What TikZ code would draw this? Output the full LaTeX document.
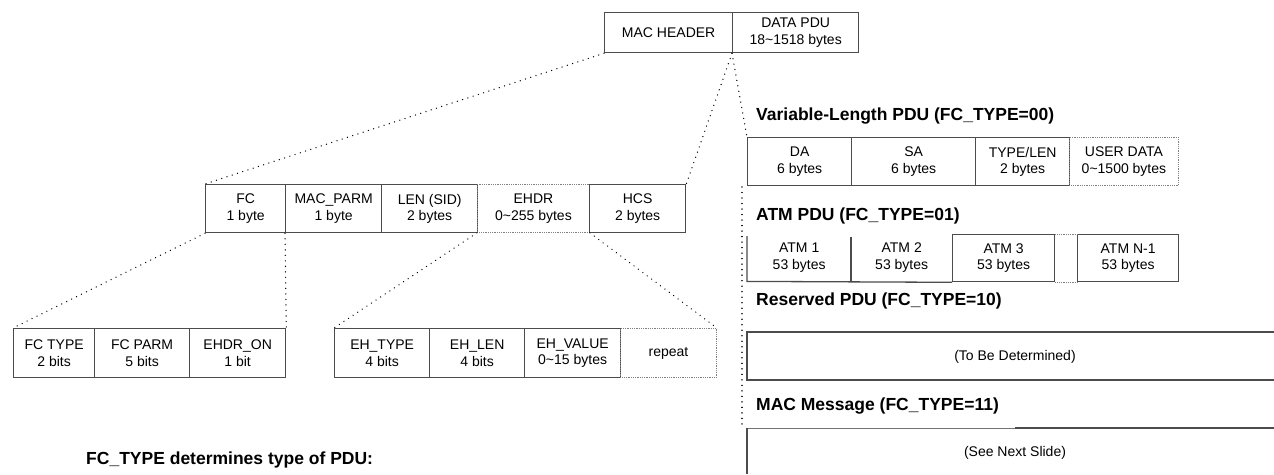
\documentclass[tikz,border=0pt]{standalone}
\usepackage{fontspec}
\setmainfont{Liberation Sans}
\begin{document}
\begin{tikzpicture}[x=1pt,y=-1pt,
  cell/.style={draw=black!70, line width=1.3pt, rectangle, inner sep=0pt, anchor=north west, align=center, font=\fontsize{14}{16.5}\selectfont},
  dcell/.style={cell, draw=black!50, dash pattern=on 0.9pt off 0.9pt, line width=0.9pt},
  txt/.style={inner sep=0pt, align=center, font=\fontsize{14}{16.5}\selectfont},
  conn/.style={line width=1.4pt, dash pattern=on 0.01pt off 5.5pt, line cap=round},
  solid line/.style={draw=black!70, line width=1.3pt},
  thin line/.style={draw=black!55, line width=0.8pt},
  dotline/.style={draw=black!50, dash pattern=on 0.9pt off 0.9pt, line width=0.9pt},
  title/.style={font=\fontsize{17.5}{20}\selectfont\bfseries, anchor=west, inner sep=0pt},
]
\useasboundingbox (0,0) rectangle (1274,474);

% top frame
\node[cell, minimum width=128pt, minimum height=40pt] (mh) at (604,12) {MAC HEADER};
\node[cell, minimum width=126pt, minimum height=40pt] (dp) at (732,12) {DATA PDU\\18\textasciitilde1518 bytes};

% MAC header row
\node[cell, minimum width=80pt, minimum height=48pt] (fc) at (205,184) {FC\\1 byte};
\node[cell, minimum width=96pt, minimum height=48pt] (mp) at (285,184) {MAC\_PARM\\1 byte};
\node[cell, minimum width=96pt, minimum height=48pt] (len) at (381,184) {LEN (SID)\\2 bytes};
\node[dcell, minimum width=112pt, minimum height=48pt] (ehdr) at (477,184) {EHDR\\0\textasciitilde255 bytes};
\node[cell, minimum width=96pt, minimum height=48pt] (hcs) at (589,184) {HCS\\2 bytes};

% FC row
\node[cell, minimum width=81pt, minimum height=49pt] (fct) at (13,328) {FC TYPE\\2 bits};
\node[cell, minimum width=95pt, minimum height=49pt] (fcp) at (94,328) {FC PARM\\5 bits};
\node[cell, minimum width=96pt, minimum height=49pt] (eon) at (189,328) {EHDR\_ON\\1 bit};

% EHDR row
\node[cell, minimum width=95pt, minimum height=49pt] (eht) at (334,328) {EH\_TYPE\\4 bits};
\node[cell, minimum width=95pt, minimum height=49pt] (ehl) at (429,328) {EH\_LEN\\4 bits};
\node[cell, minimum width=96pt, minimum height=49pt] (ehv) at (524,328) {EH\_VALUE\\0\textasciitilde15 bytes};
\node[dcell, minimum width=96pt, minimum height=49pt] (rep) at (620,328) {repeat};

% Variable-length PDU
\node[title] (t0) at (756,116) {Variable-Length PDU (FC\_TYPE=00)};
\node[cell, minimum width=104pt, minimum height=48pt] (da) at (747,137) {DA\\6 bytes};
\node[cell, minimum width=124pt, minimum height=48pt] (sa) at (851,137) {SA\\6 bytes};
\node[cell, minimum width=94pt, minimum height=48pt] (tl) at (975,137) {TYPE/LEN\\2 bytes};
\node[dcell, minimum width=109pt, minimum height=48pt] (ud) at (1069,137) {USER DATA\\0\textasciitilde1500 bytes};

% ATM PDU
\node[title] (t1) at (756,216) {ATM PDU (FC\_TYPE=01)};
\node[txt, anchor=north west, minimum width=104pt, minimum height=47pt] (a1) at (747,234) {ATM 1\\53 bytes};
\node[txt, anchor=north west, minimum width=101pt, minimum height=47pt] (a2) at (851,234) {ATM 2\\53 bytes};
\node[cell, minimum width=102pt, minimum height=47pt] (a3) at (952,234) {ATM 3\\53 bytes};
\node[cell, minimum width=101pt, minimum height=47pt] (an) at (1077,234) {ATM N-1\\53 bytes};
\draw[solid line] ([yshift=-2pt]a1.north west) -- (a1.south west) -- (a3.south west);
\draw[solid line] ([yshift=-3pt]a2.north west) -- (a2.south west);
\draw[dotline] (a3.north east) -- (an.north west);
\draw[dotline] (a3.south east) -- (an.south west);

% Reserved PDU
\node[title] (t2) at (756,301) {Reserved PDU (FC\_TYPE=10)};
\coordinate (r1) at (747,332);
\coordinate (r2) at (1274,332);
\coordinate (r3) at (747,380);
\coordinate (r4) at (1274,380);
\draw[solid line] (r2) -- (r1) -- (r3) -- (r4);
\node[txt] (tbd) at (1015,357) {(To Be Determined)};

% MAC message
\node[title] (t3) at (756,406) {MAC Message (FC\_TYPE=11)};
\coordinate (m1) at (747,428);
\coordinate (m2) at (1015,428);
\coordinate (m3) at (1274,428);
\coordinate (m4) at (747,474);
\draw[thin line] (m2) -- (m1);
\draw[solid line] (m3) -- (m2);
\draw[solid line] (m1) -- (m4);
\node[txt] (sns) at (1015,453) {(See Next Slide)};

% bottom-left caption
\node[title] (cap) at (86,460) {FC\_TYPE determines type of PDU:};

% dotted connectors
\coordinate (v1) at (742,187);
\coordinate (v2) at (742,427);
\draw[conn] (mh.south west) -- (fc.north west);
\draw[conn] (dp.south west) -- (hcs.north east);
\draw[conn] (dp.south west) -- (da.north west);
\draw[conn] (v1) -- (v2);
\draw[conn] (fc.south west) -- (fct.north west);
\draw[conn] (mp.south west) -- (eon.north east);
\draw[conn] (ehdr.south west) -- (eht.north west);
\draw[conn] (ehdr.south east) -- (rep.north east);
\end{tikzpicture}
\end{document}
